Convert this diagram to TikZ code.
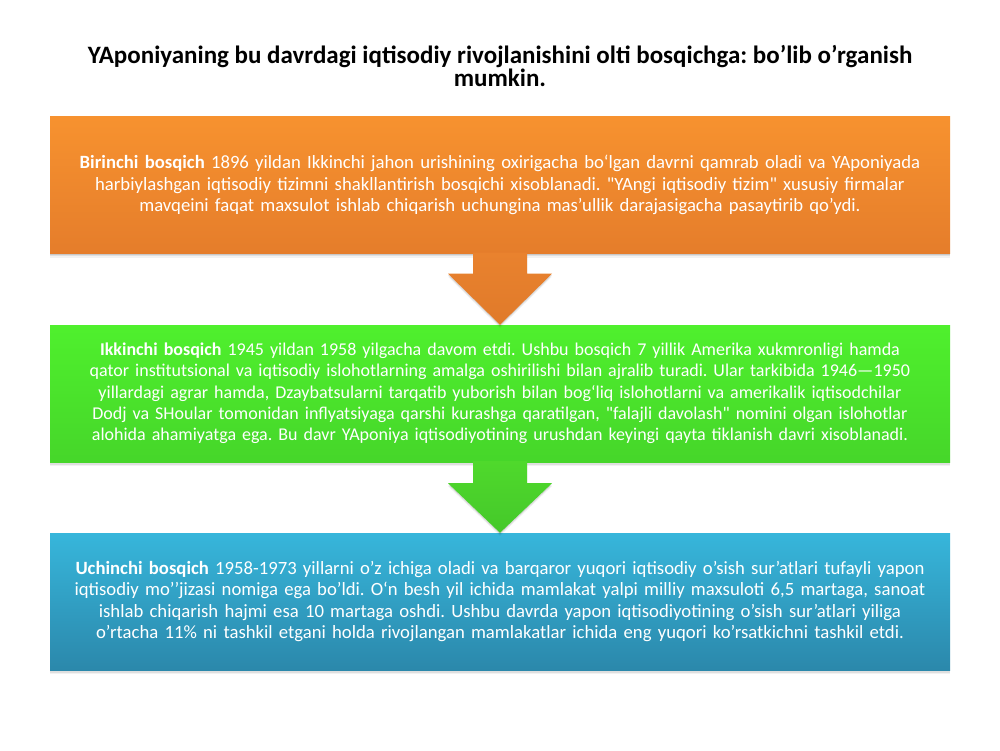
\documentclass[tikz,border=0pt]{standalone}
\usepackage{fontspec}
\setmainfont{Carlito}
\usetikzlibrary{shadows,calc}
\definecolor{orT}{HTML}{F7922F}
\definecolor{orB}{HTML}{E57D2B}
\definecolor{grT}{HTML}{4FF02D}
\definecolor{grB}{HTML}{46D62A}
\definecolor{blT}{HTML}{37B6DB}
\definecolor{blB}{HTML}{2B88AB}
\definecolor{orA}{HTML}{E9822E}
\definecolor{orA2}{HTML}{E07A2A}
\definecolor{grA}{HTML}{4FD92C}
\definecolor{grA2}{HTML}{45C82A}
\begin{document}
\frenchspacing
\begin{tikzpicture}[x=1pt,y=-1pt,
  softshadow/.style={
    drop shadow={shadow xshift=0pt, shadow yshift=-1pt, opacity=0.10, fill=black},
    drop shadow={shadow xshift=0pt, shadow yshift=-2.5pt, opacity=0.08, fill=black},
    drop shadow={shadow xshift=0pt, shadow yshift=-4pt, opacity=0.05, fill=black}},
  stagebox/.style={minimum width=900pt, minimum height=137pt, inner sep=0pt,
    text width=896pt, align=center, text=white,
    font=\fontsize{18.7}{21.5}\selectfont, softshadow},
  blockarrow/.style={
    drop shadow={shadow xshift=0pt, shadow yshift=-1.5pt, opacity=0.10, fill=black},
    drop shadow={shadow xshift=0pt, shadow yshift=-3pt, opacity=0.06, fill=black}},
  titletext/.style={align=center, font=\fontsize{25}{23.5}\selectfont\bfseries, text=black}
]
\useasboundingbox (0,0) rectangle (1000,750);
\fill[white] (0,0) rectangle (1000,750);

\node[titletext] (title) at (500,66) {YAponiyaning bu davrdagi iqtisodiy rivojlanishini olti bosqichga: bo’lib o’rganish\\mumkin.};

\node[stagebox, top color=orT, bottom color=orB] (b1) at (500,185) {\textbf{Birinchi bosqich} 1896 yildan Ikkinchi jahon urishining oxirigacha bo‘lgan davrni qamrab oladi va YAponiyada\\harbiylashgan iqtisodiy tizimni shakllantirish bosqichi xisoblanadi. \textquotedbl YAngi iqtisodiy tizim\textquotedbl{} xususiy firmalar\\mavqeini faqat maxsulot ishlab chiqarish uchungina mas’ullik darajasigacha pasaytirib qo’ydi.};

\node[stagebox, top color=grT, bottom color=grB, font=\fontsize{18}{21.3}\selectfont] (b2) at (500,393.5) {\textbf{Ikkinchi bosqich} 1945 yildan 1958 yilgacha davom etdi. Ushbu bosqich 7 yillik Amerika xukmronligi hamda\\qator institutsional va iqtisodiy islohotlarning amalga oshirilishi bilan ajralib turadi. Ular tarkibida 1946—1950\\yillardagi agrar hamda, Dzaybatsularni tarqatib yuborish bilan bog‘liq islohotlarni va amerikalik iqtisodchilar\\Dodj va SHoular tomonidan inflyatsiyaga qarshi kurashga qaratilgan, \textquotedbl falajli davolash\textquotedbl{} nomini olgan islohotlar\\alohida ahamiyatga ega. Bu davr YAponiya iqtisodiyotining urushdan keyingi qayta tiklanish davri xisoblanadi.};

\node[stagebox, top color=blT, bottom color=blB] (b3) at (500,601.5) {\textbf{Uchinchi bosqich} 1958-1973 yillarni o’z ichiga oladi va barqaror yuqori iqtisodiy o’sish sur’atlari tufayli yapon\\iqtisodiy mo’’jizasi nomiga ega bo’ldi. O‘n besh yil ichida mamlakat yalpi milliy maxsuloti 6,5 martaga, sanoat\\ishlab chiqarish hajmi esa 10 martaga oshdi. Ushbu davrda yapon iqtisodiyotining o’sish sur’atlari yiliga\\o’rtacha 11\% ni tashkil etgani holda rivojlangan mamlakatlar ichida eng yuqori ko’rsatkichni tashkil etdi.};

\path[blockarrow, top color=orA, bottom color=orA2]
  ($(b1.south)+(-27,-1)$) -- ($(b1.south)+(27,-1)$) -- ($(b1.south)+(27,20)$) -- ($(b1.south)+(52,20)$)
  -- (b2.north) -- ($(b1.south)+(-52,20)$) -- ($(b1.south)+(-27,20)$) -- cycle;

\path[blockarrow, top color=grA, bottom color=grA2]
  ($(b2.south)+(-27,-1)$) -- ($(b2.south)+(27,-1)$) -- ($(b2.south)+(27,21)$) -- ($(b2.south)+(52,21)$)
  -- (b3.north) -- ($(b2.south)+(-52,21)$) -- ($(b2.south)+(-27,21)$) -- cycle;
\end{tikzpicture}
\end{document}
